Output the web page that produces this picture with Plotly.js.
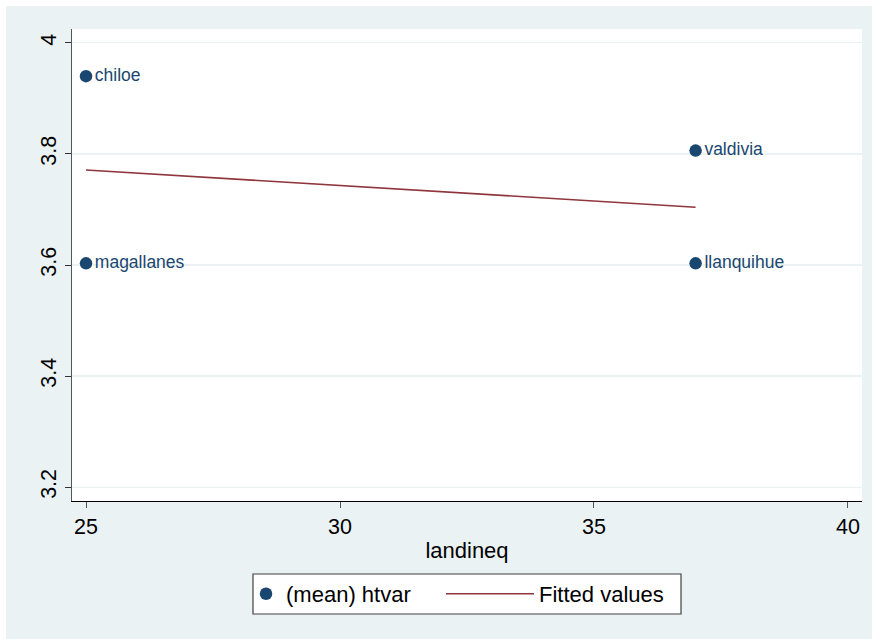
<!DOCTYPE html>
<html>
<head>
<meta charset="utf-8">
<script src="https://cdn.plot.ly/plotly-3.0.1.min.js"></script>
<style>
  html, body { margin: 0; padding: 0; background: #ffffff; }
  #chart { position: absolute; left: 6px; top: 6px; width: 866px; height: 633px; }
</style>
</head>
<body>
<div id="chart"></div>
<script>
// Data
const regions = ["chiloe", "magallanes", "valdivia", "llanquihue"];
const landineq = [25, 25, 37, 37];
const htvarMean = [3.94, 3.603, 3.806, 3.603];
const fitX = [25, 37];
const fitY = [3.771, 3.704];

const xTicks = [25, 30, 35, 40];
const yTicks = [3.2, 3.4, 3.6, 3.8, 4];
const yTickText = ["3.2", "3.4", "3.6", "3.8", "4"];

const navy = "#1a476f";
const maroon = "#90353b";
const bg = "#eaf2f3";
const FONT = "Liberation Sans, Arial, Helvetica, sans-serif";

const traces = [
  {
    type: "scatter",
    mode: "markers+text",
    x: landineq,
    y: htvarMean,
    text: regions,
    textposition: "middle right",
    textfont: { family: FONT, size: 17.5, color: navy },
    marker: { color: navy, size: 12.5 },
    name: "(mean) htvar",
    legend: "legend",
    cliponaxis: false
  },
  {
    type: "scatter",
    mode: "lines",
    x: fitX,
    y: fitY,
    line: { color: maroon, width: 1.6 },
    name: "Fitted values",
    legend: "legend2"
  }
];

const legendCommon = {
  orientation: "h",
  yanchor: "middle",
  y: -0.197,
  xanchor: "left",
  bgcolor: "rgba(0,0,0,0)",
  borderwidth: 0,
  font: { family: FONT, size: 22, color: "#000000" }
};

const layout = {
  width: 866,
  height: 633,
  paper_bgcolor: bg,
  plot_bgcolor: "#ffffff",
  margin: { l: 66, r: 10, t: 23, b: 138 },
  font: { family: FONT, size: 21, color: "#000000" },
  showlegend: true,
  xaxis: {
    range: [24.724, 40.276],
    tickvals: xTicks,
    ticks: "outside",
    ticklen: 6,
    tickwidth: 1,
    tickcolor: "#555555",
    showgrid: false,
    zeroline: false,
    showline: true,
    linecolor: "#000000",
    linewidth: 1.2,
    tickfont: { family: FONT, size: 21.5, color: "#000000" },
    title: { text: "landineq", font: { family: FONT, size: 22, color: "#000000" }, standoff: 4 }
  },
  yaxis: {
    range: [3.175, 4.025],
    tickvals: yTicks,
    ticktext: yTickText,
    tickangle: -90,
    ticks: "outside",
    ticklen: 6,
    tickwidth: 1,
    tickcolor: "#333333",
    showgrid: true,
    gridcolor: bg,
    gridwidth: 1.2,
    zeroline: false,
    showline: true,
    linecolor: "#555555",
    linewidth: 1.5,
    tickfont: { family: FONT, size: 21.5, color: "#000000" }
  },
  legend: Object.assign({}, legendCommon, { x: 0.2203, itemwidth: 30 }),
  legend2: Object.assign({}, legendCommon, { x: 0.4671, itemwidth: 88 }),
  shapes: [
    {
      type: "rect",
      xref: "paper", yref: "paper",
      x0: 0.2291, x1: 0.7709, y0: -0.2394, y1: -0.1547,
      fillcolor: "#ffffff",
      line: { color: "#404040", width: 1.2 },
      layer: "below"
    }
  ]
};

Plotly.newPlot("chart", traces, layout, { displayModeBar: false, staticPlot: true });
</script>
</body>
</html>
